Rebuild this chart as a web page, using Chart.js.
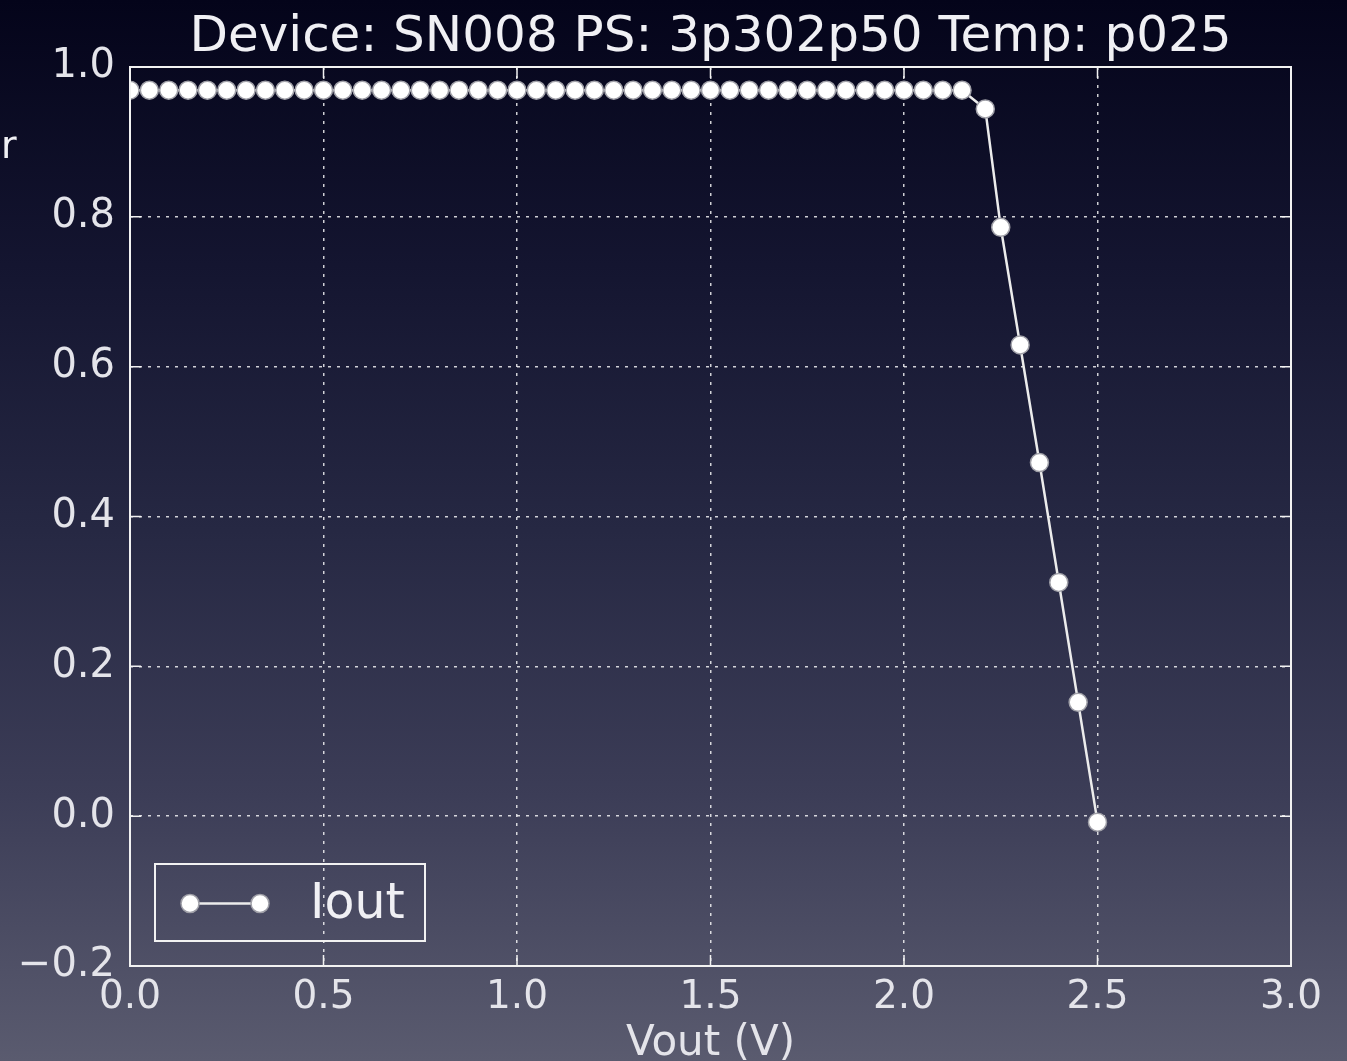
<!DOCTYPE html>
<html>
<head>
<meta charset="utf-8">
<title>Iout vs Vout</title>
<script src="https://cdn.jsdelivr.net/npm/chart.js@4.4.0/dist/chart.umd.min.js"></script>
<style>
    html, body {
        margin: 0;
        padding: 0;
        width: 1347px;
        height: 1061px;
        overflow: hidden;
        background: linear-gradient(to bottom, #04041a 0%, #141530 25%, #262843 50%, #3c3d57 75%, #5a5b6f 100%);
    }
    #wrap { position: relative; width: 1347px; height: 1061px; }
</style>
</head>
<body>
<div id="wrap"><canvas id="ivChart"></canvas></div>
<script>
// Data
const voutValues = [
    0.00, 0.05, 0.10, 0.15, 0.20, 0.25, 0.30, 0.35, 0.40, 0.45,
    0.50, 0.55, 0.60, 0.65, 0.70, 0.75, 0.80, 0.85, 0.90, 0.95,
    1.00, 1.05, 1.10, 1.15, 1.20, 1.25, 1.30, 1.35, 1.40, 1.45,
    1.50, 1.55, 1.60, 1.65, 1.70, 1.75, 1.80, 1.85, 1.90, 1.95,
    2.00, 2.05, 2.10, 2.15, 2.21, 2.25, 2.30, 2.35, 2.40, 2.45,
    2.50
];
const ioutValues = [
    0.969, 0.969, 0.969, 0.969, 0.969, 0.969, 0.969, 0.969, 0.969, 0.969,
    0.969, 0.969, 0.969, 0.969, 0.969, 0.969, 0.969, 0.969, 0.969, 0.969,
    0.969, 0.969, 0.969, 0.969, 0.969, 0.969, 0.969, 0.969, 0.969, 0.969,
    0.969, 0.969, 0.969, 0.969, 0.969, 0.969, 0.969, 0.969, 0.969, 0.969,
    0.969, 0.969, 0.969, 0.969, 0.944, 0.786, 0.629, 0.472, 0.312, 0.152,
    -0.008
];
const xTicks = [0, 0.5, 1.0, 1.5, 2.0, 2.5, 3.0];
const xTickLabels = ['0.0', '0.5', '1.0', '1.5', '2.0', '2.5', '3.0'];
const yTicks = [-0.2, 0, 0.2, 0.4, 0.6, 0.8, 1.0];
const yTickLabels = ['\u22120.2', '0.0', '0.2', '0.4', '0.6', '0.8', '1.0'];

const titleText = 'Device: SN008 PS: 3p302p50 Temp: p025';
const fontFamily = '"DejaVu Sans", Verdana, sans-serif';
const textColor = '#e4e4ea';

// matplotlib-like frame, inward ticks, title and legend
const decorPlugin = {
    id: 'decor',
    afterDatasetsDraw(chart) {
        const {ctx, chartArea: a, scales} = chart;
        const tickLen = 11;
        ctx.save();
        ctx.strokeStyle = '#f2f2f2';
        ctx.lineWidth = 2;
        ctx.strokeRect(a.left, a.top, a.right - a.left, a.bottom - a.top);
        ctx.lineWidth = 1.5;
        ctx.beginPath();
        scales.x.ticks.forEach(t => {
            const px = scales.x.getPixelForValue(t.value);
            ctx.moveTo(px, a.bottom); ctx.lineTo(px, a.bottom - tickLen);
            ctx.moveTo(px, a.top); ctx.lineTo(px, a.top + tickLen);
        });
        scales.y.ticks.forEach(t => {
            const py = scales.y.getPixelForValue(t.value);
            ctx.moveTo(a.left, py); ctx.lineTo(a.left + tickLen, py);
            ctx.moveTo(a.right, py); ctx.lineTo(a.right - tickLen, py);
        });
        ctx.stroke();
        ctx.restore();
    },
    afterDraw(chart) {
        const {ctx, chartArea: a} = chart;
        const ds = chart.data.datasets[0];
        ctx.save();
        // title
        ctx.fillStyle = '#f0f0f4';
        ctx.font = '50px ' + fontFamily;
        ctx.textAlign = 'center';
        ctx.textBaseline = 'alphabetic';
        ctx.fillText(titleText, (a.left + a.right) / 2, 51);

        // cut-off text at the very left edge of the slide
        ctx.font = '38px ' + fontFamily;
        ctx.textAlign = 'left';
        ctx.fillText('r', 1, 158);

        // legend box
        const bx = 155, by = 864, bw = 270, bh = 77;
        ctx.strokeStyle = '#f2f2f2';
        ctx.lineWidth = 2;
        ctx.strokeRect(bx, by, bw, bh);
        const ly = by + bh / 2 + 1;
        ctx.strokeStyle = ds.borderColor;
        ctx.lineWidth = ds.borderWidth;
        ctx.beginPath();
        ctx.moveTo(bx + 35, ly); ctx.lineTo(bx + 105, ly);
        ctx.stroke();
        [bx + 35, bx + 105].forEach(cx => {
            ctx.beginPath();
            ctx.arc(cx, ly, ds.pointRadius, 0, Math.PI * 2);
            ctx.fillStyle = ds.pointBackgroundColor;
            ctx.fill();
            ctx.lineWidth = ds.pointBorderWidth;
            ctx.strokeStyle = ds.pointBorderColor;
            ctx.stroke();
        });
        ctx.fillStyle = '#f0f0f4';
        ctx.font = '49px ' + fontFamily;
        ctx.textBaseline = 'middle';
        ctx.fillText(ds.label, bx + 155, ly + 2);
        ctx.restore();
    }
};

const ctx = document.getElementById('ivChart').getContext('2d');
const ivChart = new Chart(ctx, {
    type: 'line',
    data: {
        datasets: [{
            label: 'Iout',
            data: voutValues.map((v, i) => ({x: v, y: ioutValues[i]})),
            borderColor: '#ececec',
            borderWidth: 2.5,
            pointRadius: 9,
            pointHoverRadius: 9,
            pointBackgroundColor: '#ffffff',
            pointBorderColor: '#a0a0a8',
            pointBorderWidth: 1.5,
            tension: 0,
            clip: 0
        }]
    },
    options: {
        responsive: true,
        maintainAspectRatio: false,
        animation: false,
        layout: {
            padding: {left: 0, right: 56, top: 67, bottom: 0}
        },
        plugins: {
            legend: {display: false},
            tooltip: {enabled: false}
        },
        scales: {
            x: {
                type: 'linear',
                min: 0,
                max: 3,
                afterBuildTicks: scale => { scale.ticks = xTicks.map(v => ({value: v})); },
                afterFit: scale => { scale.height = 95; },
                ticks: {
                    callback: (v, i) => xTickLabels[i],
                    color: textColor,
                    font: {family: fontFamily, size: 39},
                    padding: 8,
                    maxRotation: 0
                },
                grid: {
                    color: 'rgba(255,255,255,0.8)',
                    lineWidth: 1.5,
                    drawTicks: false
                },
                border: {display: false, dash: [3, 6]},
                title: {
                    display: true,
                    text: 'Vout (V)',
                    color: textColor,
                    font: {family: fontFamily, size: 42, lineHeight: 0.8},
                    padding: {top: 0, bottom: 0}
                }
            },
            y: {
                type: 'linear',
                min: -0.2,
                max: 1.0,
                afterBuildTicks: scale => { scale.ticks = yTicks.map(v => ({value: v})); },
                afterFit: scale => { scale.width = 130; },
                ticks: {
                    callback: (v, i) => yTickLabels[i],
                    color: textColor,
                    font: {family: fontFamily, size: 40},
                    padding: 15
                },
                grid: {
                    color: 'rgba(255,255,255,0.8)',
                    lineWidth: 1.5,
                    drawTicks: false
                },
                border: {display: false, dash: [3, 6]}
            }
        }
    },
    plugins: [decorPlugin]
});
</script>
</body>
</html>
